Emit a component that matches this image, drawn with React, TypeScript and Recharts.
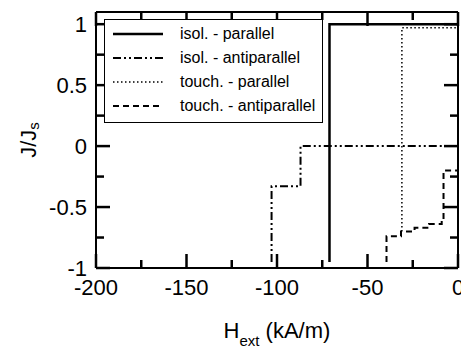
import { LineChart, Line, XAxis, YAxis, ReferenceLine, Legend } from "recharts";

// curves (H in kA/m, J/Js)
const isolParallel = [
  { x: -71, y: -0.95 },
  { x: -71, y: 1.0 },
  { x: 0, y: 1.0 },
];
const isolAntiparallel = [
  { x: -103, y: -0.95 },
  { x: -103, y: -0.33 },
  { x: -87, y: -0.33 },
  { x: -87, y: 0 },
  { x: 0, y: 0 },
];
const touchParallel = [
  { x: -31, y: -0.7 },
  { x: -31, y: 0.97 },
  { x: 0, y: 0.97 },
];
const touchAntiparallel = [
  { x: -39.5, y: -0.95 },
  { x: -39.5, y: -0.74 },
  { x: -31.5, y: -0.74 },
  { x: -31.5, y: -0.7 },
  { x: -24, y: -0.7 },
  { x: -24, y: -0.67 },
  { x: -16, y: -0.67 },
  { x: -16, y: -0.64 },
  { x: -9, y: -0.64 },
  { x: -9, y: -0.61 },
  { x: -8, y: -0.61 },
  { x: -8, y: -0.2 },
  { x: 0, y: -0.2 },
];

const seriesNames = [
  "isol. - parallel",
  "isol. - antiparallel",
  "touch. - parallel",
  "touch. - antiparallel",
];

const xTicks = [-200, -175, -150, -125, -100, -75, -50, -25, 0];
const xLabels = [-200, -150, -100, -50, 0];
const yTicks = [-1, -0.75, -0.5, -0.25, 0, 0.25, 0.5, 0.75, 1];
const yLabels = [-1, -0.5, 0, 0.5, 1];

const X_MIN = -200;
const X_MAX = 0;
const Y_MIN = -1;
const Y_MAX = 1.1;
const PLOT_W = 362;
const PLOT_H = 256;

const FONT = "'Liberation Sans', Arial, sans-serif";

const lineStyles = [
  { width: 2.5, dash: undefined },
  { width: 2, dash: "8 3 2 3 2 3" },
  { width: 1.5, dash: "1.5 2.5" },
  { width: 2, dash: "6 4" },
];

function XTick(props: any) {
  const x = Number(props.x);
  const y = Number(props.y);
  const v = props.payload.value;
  const major = xLabels.includes(v);
  const len = major ? 14 : 8;
  const top = y - PLOT_H;
  return (
    <g>
      <line x1={x} y1={y} x2={x} y2={y - len} stroke="#000000" strokeWidth={2.5} strokeLinecap="butt" />
      <line x1={x} y1={top} x2={x} y2={top + len} stroke="#000000" strokeWidth={2.5} strokeLinecap="butt" />
      {major && (
        <text x={x} y={y + 27} textAnchor="middle" fontSize={22} fill="#000" fontFamily={FONT}>
          {v}
        </text>
      )}
    </g>
  );
}

function YTick(props: any) {
  const x = Number(props.x);
  const y = Number(props.y);
  const v = props.payload.value;
  const major = yLabels.includes(v);
  const len = major ? 14 : 8;
  const right = x + PLOT_W;
  return (
    <g>
      <line x1={x} y1={y} x2={x + len} y2={y} stroke="#000000" strokeWidth={2.5} />
      <line x1={right} y1={y} x2={right - len} y2={y} stroke="#000000" strokeWidth={2.5} />
      {major && (
        <text x={x - 9} y={y + 8} textAnchor="end" fontSize={22} fill="#000" fontFamily={FONT}>
          {v}
        </text>
      )}
    </g>
  );
}

function LegendBox() {
  return (
    <div style={{ paddingTop: 2 }}>
      {seriesNames.map((name, i) => (
        <div key={name} style={{ height: 24, display: "flex", alignItems: "center" }}>
          <svg width={50} height={10} style={{ marginLeft: 8 }}>
            <line
              x1={0}
              y1={5}
              x2={50}
              y2={5}
              stroke="#000"
              strokeWidth={lineStyles[i].width}
              strokeDasharray={lineStyles[i].dash}
            />
          </svg>
          <span style={{ marginLeft: 17, fontSize: 16, fontFamily: FONT, color: "#000" }}>{name}</span>
        </div>
      ))}
    </div>
  );
}

export default function App() {
  const series = [isolParallel, isolAntiparallel, touchParallel, touchAntiparallel];
  return (
    <div style={{ position: "absolute", left: 0, top: 0, fontFamily: FONT }}>
      <LineChart width={461} height={346} margin={{ top: 12, right: 3, bottom: 0, left: 0 }}>
        <XAxis
          dataKey="x"
          type="number"
          domain={[X_MIN, X_MAX]}
          ticks={xTicks}
          interval={0}
          height={78}
          tickSize={0}
          tickMargin={0}
          tickLine={false}
          axisLine={{ stroke: "#000", strokeWidth: 2 }}
          tick={(p: any) => <XTick {...p} />}
          label={{
            content: () => (
              <text x={277} y={338} textAnchor="middle" fontSize={22} fill="#000" fontFamily={FONT}>
                H<tspan fontSize={15} dy={8}>ext</tspan>
                <tspan dy={-8}> (kA/m)</tspan>
              </text>
            ),
          }}
        />
        <YAxis
          type="number"
          domain={[Y_MIN, Y_MAX]}
          ticks={yTicks}
          interval={0}
          width={96}
          tickSize={0}
          tickMargin={0}
          tickLine={false}
          axisLine={{ stroke: "#000", strokeWidth: 2 }}
          tick={(p: any) => <YTick {...p} />}
          label={{
            content: () => (
              <text
                x={30}
                y={140}
                transform="rotate(-90 30 140)"
                textAnchor="middle"
                dominantBaseline="middle"
                fontSize={22}
                fill="#000"
                fontFamily={FONT}
              >
                J/J<tspan fontSize={15} dy={5}>s</tspan>
              </text>
            ),
          }}
        />
        <ReferenceLine y={Y_MAX} stroke="#000" strokeWidth={2} />
        <ReferenceLine x={X_MAX} stroke="#000" strokeWidth={2} />
        {series.map((d, i) => (
          <Line
            key={seriesNames[i]}
            data={d}
            dataKey="y"
            name={seriesNames[i]}
            type="linear"
            stroke="#000"
            strokeWidth={lineStyles[i].width}
            strokeDasharray={lineStyles[i].dash}
            dot={false}
            activeDot={false}
            isAnimationActive={false}
          />
        ))}
        <Legend
          layout="vertical"
          align="center"
          verticalAlign="middle"
          content={() => <LegendBox />}
          wrapperStyle={{
            left: 104,
            top: 19,
            width: 219,
            height: 104,
            border: "1.5px solid #000",
            background: "#fff",
            boxSizing: "border-box",
          }}
        />
      </LineChart>
    </div>
  );
}
